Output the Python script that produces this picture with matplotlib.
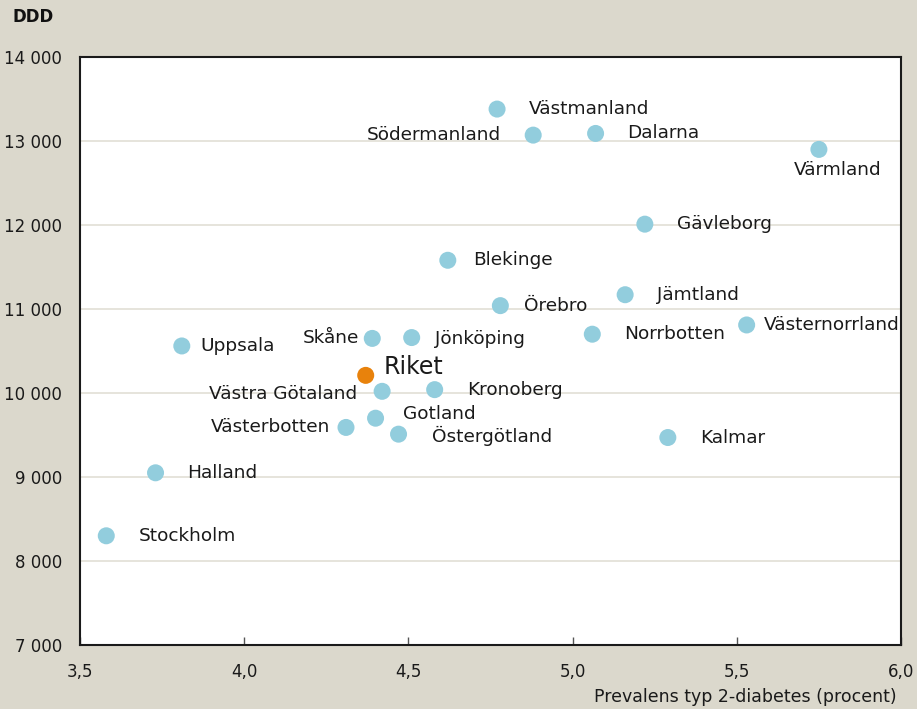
import matplotlib
matplotlib.use('Agg')
import matplotlib.pyplot as plt
from matplotlib.ticker import FuncFormatter

# data: län, prevalens typ 2-diabetes (%), DDD
lan = ['Västmanland', 'Södermanland', 'Dalarna', 'Värmland', 'Gävleborg',
       'Blekinge', 'Jämtland', 'Örebro', 'Västernorrland', 'Norrbotten',
       'Skåne', 'Jönköping', 'Uppsala', 'Västra Götaland', 'Kronoberg',
       'Gotland', 'Västerbotten', 'Östergötland', 'Kalmar', 'Halland',
       'Stockholm']
prevalens = [4.77, 4.88, 5.07, 5.75, 5.22,
             4.62, 5.16, 4.78, 5.53, 5.06,
             4.39, 4.51, 3.81, 4.42, 4.58,
             4.40, 4.31, 4.47, 5.29, 3.73,
             3.58]
ddd = [13380, 13070, 13090, 12900, 12010,
       11580, 11170, 11040, 10810, 10700,
       10650, 10660, 10560, 10020, 10040,
       9700, 9590, 9510, 9470, 9050,
       8300]
riket_x, riket_y = 4.37, 10210

# label offsets in pixels (dx, dy, ha)
offsets = {
    'Södermanland': (-32, 0, 'right'),
    'Värmland': (19, -21, 'center'),
    'Blekinge': (25, 0, 'left'),
    'Örebro': (24, 0, 'left'),
    'Västernorrland': (17, 0, 'left'),
    'Skåne': (-13, 0, 'right'),
    'Jönköping': (23, -1, 'left'),
    'Uppsala': (19, 0, 'left'),
    'Västra Götaland': (-25, -3, 'right'),
    'Gotland': (27, 4, 'left'),
    'Västerbotten': (-16, 0, 'right'),
    'Östergötland': (33, -2, 'left'),
}

bg = '#dbd8cc'
blue = '#92cddd'
orange = '#e8820c'

plt.rcParams['font.family'] = ['DejaVu Sans']
fig = plt.figure(figsize=(9.17, 7.09), dpi=100, facecolor=bg)
ax = fig.add_axes([80 / 917, 64 / 709, 821 / 917, 588 / 709])
ax.set_facecolor('white')

ax.scatter(prevalens, ddd, s=150, color=blue, edgecolors='none', zorder=3)
ax.scatter([riket_x], [riket_y], s=150, color=orange, edgecolors='none', zorder=3)

px = 72 / 100
for name, x, y in zip(lan, prevalens, ddd):
    dx, dy, ha = offsets.get(name, (32, 0, 'left'))
    ax.annotate(name, (x, y), xytext=(dx * px, dy * px), textcoords='offset points',
                ha=ha, va='center', fontsize=13.3, color='#1a1a1a', zorder=4)
ax.annotate('Riket', (riket_x, riket_y), xytext=(18 * px, 8 * px),
            textcoords='offset points', ha='left', va='center', fontsize=17,
            color='#1a1a1a', zorder=4)

ax.set_xlim(3.5, 6.0)
ax.set_ylim(7000, 14000)
ax.set_xticks([3.5, 4.0, 4.5, 5.0, 5.5, 6.0])
ax.set_yticks(range(7000, 14001, 1000))
ax.xaxis.set_major_formatter(FuncFormatter(lambda v, p: f'{v:.1f}'.replace('.', ',')))
ax.yaxis.set_major_formatter(FuncFormatter(lambda v, p: f'{int(v):,}'.replace(',', ' ')))
ax.grid(axis='y', color='#e2dfd5', linewidth=1.2, zorder=0)
ax.set_axisbelow(True)
ax.tick_params(axis='x', direction='in', length=6, width=1, color='#555555',
               labelsize=12, pad=13, labelcolor='#1a1a1a')
ax.tick_params(axis='y', length=0, labelsize=12, pad=13, labelcolor='#1a1a1a')
for s in ax.spines.values():
    s.set_color('#1a1a1a')
    s.set_linewidth(1.5)

fig.text(12 / 917, 1 - 17 / 709, 'DDD', fontsize=12, fontweight='bold',
         va='center', ha='left', color='#111111')
fig.text(897 / 917, 1 - 697 / 709, 'Prevalens typ 2-diabetes (procent)',
         fontsize=12.5, ha='right', va='center', color='#1a1a1a')

fig.savefig('out.png', dpi=100, facecolor=bg)
